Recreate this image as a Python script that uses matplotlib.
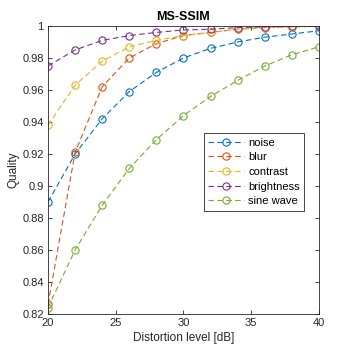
import matplotlib
matplotlib.use("Agg")
import matplotlib.pyplot as plt

plt.rcParams["font.family"] = ["Liberation Sans", "DejaVu Sans"]

levels = [20, 22, 24, 26, 28, 30, 32, 34, 36, 38, 40]
noise = [0.890, 0.920, 0.942, 0.959, 0.971, 0.980, 0.986, 0.990, 0.993, 0.995, 0.997]
blur = [0.826, 0.921, 0.962, 0.980, 0.989, 0.994, 0.996, 0.998, 0.999, 0.9995, 0.9998]
contrast = [0.938, 0.963, 0.978, 0.987, 0.991, 0.994, 0.996, 0.998, 0.999, 0.9995, 1.0]
brightness = [0.975, 0.985, 0.991, 0.994, 0.996, 0.9975, 0.998, 0.999, 0.9995, 0.9998, 1.0]
sine_wave = [0.824, 0.860, 0.888, 0.911, 0.929, 0.944, 0.956, 0.966, 0.975, 0.982, 0.987]

names = ["noise", "blur", "contrast", "brightness", "sine wave"]
series = [noise, blur, contrast, brightness, sine_wave]
colors = ["#0072BD", "#D95319", "#EDB120", "#7E2F8E", "#77AC30"]

fig = plt.figure(figsize=(3.54, 3.54), dpi=100)
ax = fig.add_axes([0.1356, 0.113, 0.7655, 0.8136])

for name, vals, c in zip(names, series, colors):
    ax.plot(levels, vals, linestyle=(0, (5, 3)), color=c, lw=0.8,
            marker="o", markersize=5.2, markerfacecolor="none",
            markeredgewidth=0.8, label=name)

ax.set_xlim(20, 40)
ax.set_ylim(0.82, 1.0)
ax.set_xticks([20, 25, 30, 35, 40])
ax.set_yticks([0.82, 0.84, 0.86, 0.88, 0.9, 0.92, 0.94, 0.96, 0.98, 1.0])
ax.set_yticklabels(["0.82", "0.84", "0.86", "0.88", "0.9", "0.92", "0.94", "0.96", "0.98", "1"])
ax.tick_params(direction="in", length=3, width=0.6, labelsize=8, top=True, right=True,
               labeltop=False, labelright=False, colors="#262626", pad=3)
for s in ax.spines.values():
    s.set_linewidth(0.6)
    s.set_color("#262626")

ax.set_xlabel("Distortion level [dB]", fontsize=8.5, color="#262626", labelpad=3)
ax.set_ylabel("Quality", fontsize=8.5, color="#262626", labelpad=2)
ax.set_title("MS-SSIM", fontsize=9, fontweight="bold", pad=4)

leg = ax.legend(loc="upper left", bbox_to_anchor=(0.575, 0.628), fontsize=8,
                fancybox=False, framealpha=1, edgecolor="#262626",
                handlelength=3.2, handletextpad=0.4, borderpad=0.4,
                labelspacing=0.42, borderaxespad=0)
leg.get_frame().set_linewidth(0.6)

fig.savefig("out.png", dpi=100)
